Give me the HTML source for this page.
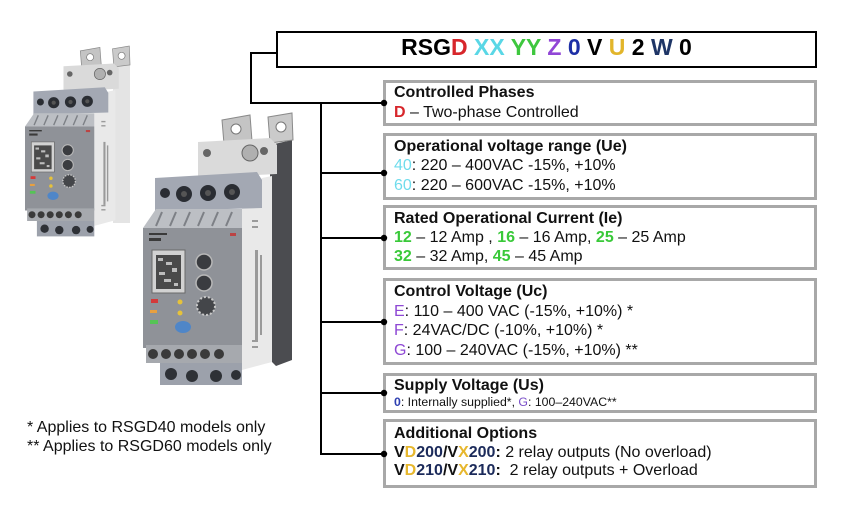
<!DOCTYPE html>
<html><head><meta charset="utf-8"><style>
html,body{margin:0;padding:0;background:#fff;}
body{width:842px;height:515px;position:relative;overflow:hidden;font-family:"Liberation Sans",Arial,sans-serif;color:#111;}
.box{position:absolute;left:383px;width:434px;box-sizing:border-box;border:3px solid #a8a8a8;background:#fff;}
.t{position:absolute;left:394px;font-size:16px;white-space:nowrap;}
.t b{font-weight:bold;}
#top{position:absolute;left:276px;top:31px;width:541px;height:37px;box-sizing:border-box;border:2px solid #000;background:#fff;}
#toptext{position:absolute;left:276px;width:541px;top:34.3px;line-height:26px;text-align:center;font-size:23px;font-weight:bold;white-space:nowrap;color:#000;}
svg{position:absolute;left:0;top:0;}
</style></head><body>

<svg width="842" height="515" viewBox="0 0 842 515">
<defs>
<g id="dev">
  <polygon points="222,120 250,115 252,141 224,144" fill="#c4c4c4" stroke="#8a8a8a" stroke-width="1"/>
  <circle cx="236" cy="129" r="5" fill="#fff" stroke="#777"/>
  <polygon points="268,117 292,113 293,140 270,143" fill="#cacaca" stroke="#8a8a8a" stroke-width="1"/>
  <circle cx="281" cy="127" r="5" fill="#fff" stroke="#777"/>
  <polygon points="198,142 270,138 277,145 277,174 198,178" fill="#dadada"/>
  <circle cx="207" cy="153" r="4" fill="#666"/>
  <circle cx="264" cy="151" r="4" fill="#666"/>
  <circle cx="250" cy="153" r="8" fill="#b0b0b0" stroke="#666"/>
  <polygon points="242,208 262,178 272,176 272,362 242,370" fill="#e9e9e9"/>
  <g fill="#9a9a9a">
    <rect x="252" y="220" width="6" height="2"/><rect x="252" y="226" width="6" height="2"/>
    <rect x="255" y="250" width="3" height="90"/>
    <rect x="260" y="255" width="2" height="80"/>
    <rect x="252" y="340" width="6" height="2"/><rect x="252" y="346" width="6" height="2"/>
  </g>
  <polygon points="155,178 257,172 262,180 262,208 155,211" fill="#a3a8b3"/>
  <circle cx="165" cy="193" r="5" fill="#2a2d33"/>
  <circle cx="184" cy="194" r="8" fill="#2a2d33"/><circle cx="184" cy="194" r="3" fill="#555"/>
  <circle cx="208" cy="193" r="8" fill="#2a2d33"/><circle cx="208" cy="193" r="3" fill="#555"/>
  <circle cx="232" cy="192" r="8" fill="#2a2d33"/><circle cx="232" cy="192" r="3" fill="#555"/>
  <polygon points="143,228 156,209 242,209 242,228" fill="#bcbfc4"/>
  <g stroke="#7d8086" stroke-width="2">
    <line x1="156" y1="226" x2="162" y2="212"/><line x1="170" y1="226" x2="176" y2="212"/>
    <line x1="184" y1="226" x2="190" y2="212"/><line x1="198" y1="226" x2="204" y2="212"/>
    <line x1="212" y1="226" x2="218" y2="212"/><line x1="226" y1="226" x2="232" y2="212"/>
  </g>
  <rect x="143" y="228" width="99" height="120" fill="#8f9298"/>
  <rect x="149" y="233" width="18" height="2" fill="#3a3a3a"/>
  <rect x="149" y="238" width="12" height="3" fill="#3a3a3a"/>
  <rect x="230" y="233" width="6" height="3" fill="#b44"/>
  <rect x="152" y="250" width="33" height="43" fill="#d2d2d2" stroke="#6a6a6a"/>
  <rect x="156" y="255" width="25" height="34" fill="#4a4a4a"/>
  <g fill="#bdbdbd">
    <rect x="158" y="258" width="5" height="3"/><rect x="166" y="262" width="6" height="3"/>
    <rect x="172" y="268" width="5" height="4"/><rect x="159" y="272" width="6" height="3"/>
    <rect x="164" y="279" width="7" height="3"/><rect x="174" y="283" width="4" height="3"/>
  </g>
  <circle cx="204" cy="262" r="8" fill="#3a3c40" stroke="#b8b8b8" stroke-width="1.5"/>
  <circle cx="204" cy="283" r="8" fill="#3a3c40" stroke="#b8b8b8" stroke-width="1.5"/>
  <circle cx="206" cy="306" r="9" fill="#44464a" stroke="#c8c8c8" stroke-width="2" stroke-dasharray="2 2"/>
  <rect x="151" y="299" width="7" height="4" fill="#d43a3a"/>
  <circle cx="180" cy="302" r="2.5" fill="#e6c23a"/>
  <rect x="150" y="310" width="7" height="3" fill="#e8a040"/>
  <circle cx="180" cy="313" r="2.5" fill="#e6c23a"/>
  <rect x="150" y="320" width="8" height="4" fill="#55c455"/>
  <ellipse cx="183" cy="327" rx="8" ry="6" fill="#4f86c8"/>
  <rect x="146" y="345" width="96" height="18" fill="#a6a9ae"/>
  <g fill="#3a3a3a">
    <circle cx="153" cy="354" r="5"/><circle cx="166" cy="354" r="5"/><circle cx="179" cy="354" r="5"/>
    <circle cx="192" cy="354" r="5"/><circle cx="205" cy="354" r="5"/><circle cx="219" cy="354" r="5"/>
  </g>
  <rect x="160" y="363" width="82" height="22" fill="#9ca1ab"/>
  <g fill="#2e3136">
    <circle cx="171" cy="374" r="6"/><circle cx="192" cy="376" r="6"/>
    <circle cx="216" cy="376" r="6"/><circle cx="236" cy="375" r="5"/>
  </g>
</g>
</defs>
<rect x="113" y="65" width="17" height="158" fill="#e4e4e4"/>
<use href="#dev" transform="translate(-75.1,-33.1) scale(0.7)"/>
<polygon points="270,145 292,140 292,360 276,366 270,360" fill="#4b4c50"/>
<use href="#dev"/>
</svg>

<div id="top"></div>
<div id="toptext">RSG<span style="color:#d7262b">D</span> <span style="color:#5ad7e6">XX</span> <span style="color:#3ec73e">YY</span> <span style="color:#9146d6">Z</span> <span style="color:#1d2fa6">0</span> V <span style="color:#e2b52a">U</span> 2 <span style="color:#1e3566">W</span> 0</div>

<div class="box" style="top:80px;height:46px;"></div>
<div class="box" style="top:133px;height:67px;"></div>
<div class="box" style="top:205px;height:65px;"></div>
<div class="box" style="top:278px;height:87px;"></div>
<div class="box" style="top:373px;height:40px;"></div>
<div class="box" style="top:419px;height:69px;"></div>

<div class="t" style="top:82.5px;line-height:20px;"><b>Controlled Phases</b><br><b style="color:#d7262b">D</b> – Two-phase Controlled</div>

<div class="t" style="top:136.7px;line-height:19.5px;"><b>Operational voltage range (Ue)</b><br><span style="color:#6fdcec">40</span>: 220 – 400VAC -15%, +10%<br><span style="color:#6fdcec">60</span>: 220 – 600VAC -15%, +10%</div>

<div class="t" style="top:209px;line-height:19px;"><b>Rated Operational Current (Ie)</b><br><b style="color:#39c939">12</b> – 12 Amp , <b style="color:#39c939">16</b> – 16 Amp, <b style="color:#39c939">25</b> – 25 Amp<br><b style="color:#39c939">32</b> – 32 Amp, <b style="color:#39c939">45</b> – 45 Amp</div>

<div class="t" style="top:282px;line-height:19.7px;"><b>Control Voltage (Uc)</b><br><span style="color:#8e48d4">E</span>: 110 – 400 VAC (-15%, +10%) *<br><span style="color:#8e48d4">F</span>: 24VAC/DC (-10%, +10%) *<br><span style="color:#8e48d4">G</span>: 100 – 240VAC (-15%, +10%) **</div>

<div class="t" style="top:375.7px;line-height:19.5px;"><b>Supply Voltage (Us)</b></div>
<div class="t" style="top:395px;line-height:15px;font-size:12.3px;"><b style="color:#2d3fb0">0</b>: Internally supplied*, <span style="color:#7a4fc8">G</span>: 100–240VAC**</div>

<div class="t" style="top:425px;line-height:18.7px;"><b>Additional Options</b><br><b>V<span style="color:#e7b72d">D</span><span style="color:#1b2a5a">200</span>/V<span style="color:#e7b72d">X</span><span style="color:#1b2a5a">200</span>:</b> 2 relay outputs (No overload)<br><b>V<span style="color:#e7b72d">D</span><span style="color:#1b2a5a">210</span>/V<span style="color:#e7b72d">X</span><span style="color:#1b2a5a">210</span>:</b>&nbsp; 2 relay outputs + Overload</div>

<div class="t" style="left:27px;top:417.7px;line-height:19.5px;">* Applies to RSGD40 models only<br>** Applies to RSGD60 models only</div>

<svg width="842" height="515" viewBox="0 0 842 515" style="pointer-events:none">
<g stroke="#000" stroke-width="2" fill="none">
  <polyline points="276,53 251,53 251,103 384,103"/>
  <line x1="321" y1="103" x2="321" y2="455"/>
  <line x1="321" y1="173" x2="384" y2="173"/>
  <line x1="321" y1="238" x2="384" y2="238"/>
  <line x1="321" y1="322" x2="384" y2="322"/>
  <line x1="321" y1="393" x2="384" y2="393"/>
  <line x1="321" y1="454" x2="384" y2="454"/>
</g>
<g fill="#000">
  <circle cx="384" cy="103" r="3.2"/>
  <circle cx="384" cy="173" r="3.2"/>
  <circle cx="384" cy="238" r="3.2"/>
  <circle cx="384" cy="322" r="3.2"/>
  <circle cx="384" cy="393" r="3.2"/>
  <circle cx="384" cy="454" r="3.2"/>
</g>
</svg>
</body></html>
